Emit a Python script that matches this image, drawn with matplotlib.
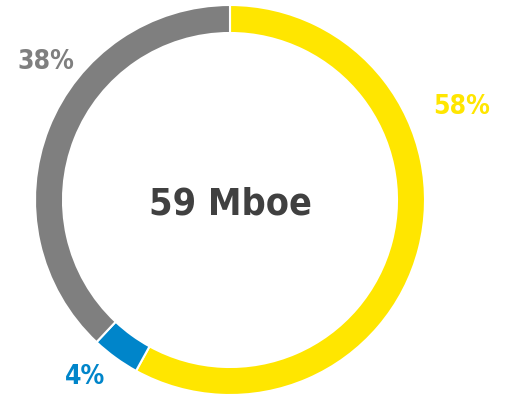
import matplotlib
matplotlib.use("Agg")
import matplotlib.pyplot as plt

shares = [58, 4, 38]
labels = ["58%", "4%", "38%"]
colors = ["#FFE600", "#0085CA", "#7F7F7F"]
total_label = "59 Mboe"

W, H = 506, 398
fig = plt.figure(figsize=(W / 100, H / 100), dpi=100)
ax = fig.add_axes([0, 0, 1, 1])

# ring drawn in pixel-sized data units
cx, cy, r = 230, H - 200, 195
ax.pie(shares, colors=colors, startangle=90, counterclock=False,
       center=(cx, cy), radius=r, frame=True,
       wedgeprops=dict(width=28, edgecolor="white", linewidth=1.5))
ax.set_xlim(0, W)
ax.set_ylim(0, H)
ax.set_aspect("equal")
ax.axis("off")

font = dict(family="DejaVu Sans", stretch="condensed", weight="bold")
label_pos = [(462, 107), (85, 377), (46, 62)]
for text, col, (x, y) in zip(labels, colors, label_pos):
    ax.text(x, H - y, text, color=col, fontsize=19,
            ha="center", va="center", **font)

ax.text(cx, H - 205, total_label, color="#404040", fontsize=27,
        ha="center", va="center", **font)

fig.savefig("out.png", dpi=100)
